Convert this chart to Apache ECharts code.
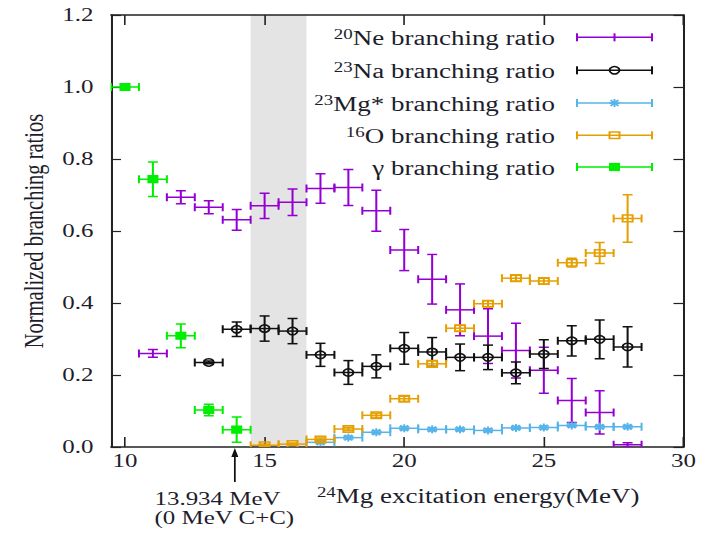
<!DOCTYPE html>
<html>
<head>
<meta charset="utf-8">
<title>24Mg branching ratios</title>
<script src="https://cdn.jsdelivr.net/npm/echarts@6/dist/echarts.min.js"></script>
<style>
  html, body { margin: 0; padding: 0; background: #fff; overflow: hidden; }
  /* the figure is laid out narrow and widened horizontally */
  #chart { width: 527px; height: 533px; transform: scaleX(1.3491); transform-origin: 0 0; }
</style>
</head>
<body>
<div id="chart"></div>
<script>
// ---- data -------------------------------------------------------------
const binHalfWidth = 0.5;            // MeV, half width of each energy bin
const shadedBand = [14.5, 16.5];     // MeV
const thresholdEnergy = 13.934;      // MeV, 12C+12C threshold
const xTickValues = [10, 15, 20, 25, 30];

const neEnergy = [11, 12, 13, 14, 15, 16, 17, 18, 19, 20, 21, 22, 23, 24, 25, 26, 27, 28];
const neRatio  = [0.260, 0.694, 0.666, 0.631, 0.670, 0.680, 0.718, 0.721, 0.656, 0.547, 0.466, 0.381, 0.308, 0.268, 0.213, 0.129, 0.096, 0.006];
const neError  = [0.011, 0.018, 0.018, 0.029, 0.035, 0.037, 0.041, 0.050, 0.057, 0.057, 0.069, 0.072, 0.076, 0.076, 0.064, 0.061, 0.060, 0.006];

const naEnergy = [13, 14, 15, 16, 17, 18, 19, 20, 21, 22, 23, 24, 25, 26, 27, 28];
const naRatio  = [0.235, 0.327, 0.329, 0.322, 0.256, 0.207, 0.224, 0.274, 0.264, 0.249, 0.249, 0.206, 0.258, 0.295, 0.299, 0.278];
const naError  = [0.004, 0.020, 0.035, 0.035, 0.032, 0.033, 0.032, 0.044, 0.040, 0.037, 0.034, 0.030, 0.040, 0.042, 0.054, 0.056];

const mgEnergy = [17, 18, 19, 20, 21, 22, 23, 24, 25, 26, 27, 28];
const mgRatio  = [0.013, 0.026, 0.041, 0.052, 0.049, 0.049, 0.046, 0.053, 0.054, 0.060, 0.056, 0.056];
const mgError  = [0.003, 0.004, 0.004, 0.004, 0.004, 0.004, 0.004, 0.004, 0.004, 0.004, 0.004, 0.004];

const oEnergy = [15, 16, 17, 18, 19, 20, 21, 22, 23, 24, 25, 26, 27, 28];
const oRatio  = [0.005, 0.008, 0.021, 0.050, 0.088, 0.134, 0.231, 0.330, 0.398, 0.469, 0.461, 0.512, 0.539, 0.635];
const oError  = [0.003, 0.003, 0.004, 0.005, 0.006, 0.007, 0.008, 0.008, 0.008, 0.008, 0.008, 0.012, 0.029, 0.066];

const gammaEnergy = [10, 11, 12, 13, 14];
const gammaRatio  = [1.000, 0.744, 0.309, 0.103, 0.048];
const gammaError  = [0.000, 0.048, 0.033, 0.016, 0.035];

// ---- styling ----------------------------------------------------------
const FONT = "'Liberation Serif', 'Times New Roman', serif";
const INK = '#1d1d2b';
const LW = 1.5;

const channels = [
  { mass: '20', label: 'Ne branching ratio',  marker: 'none',         color: '#9400d3', x: neEnergy,    y: neRatio,    e: neError },
  { mass: '23', label: 'Na branching ratio',  marker: 'circle',       color: '#111111', x: naEnergy,    y: naRatio,    e: naError },
  { mass: '23', label: 'Mg* branching ratio', marker: 'asterisk',     color: '#56b4e9', x: mgEnergy,    y: mgRatio,    e: mgError },
  { mass: '16', label: 'O branching ratio',   marker: 'openSquare',   color: '#e69f00', x: oEnergy,     y: oRatio,     e: oError },
  { mass: '',   label: 'γ branching ratio',   marker: 'filledSquare', color: '#00ee00', x: gammaEnergy, y: gammaRatio, e: gammaError }
];

function markerShapes(kind, cx, cy, color) {
  const st = { stroke: color, lineWidth: LW, fill: 'none' };
  switch (kind) {
    case 'circle':
      return [{ type: 'circle', shape: { cx: cx, cy: cy, r: 3.7 }, style: st }];
    case 'openSquare':
      return [{ type: 'rect', shape: { x: cx - 3.7, y: cy - 3.3, width: 7.4, height: 6.6 }, style: st }];
    case 'filledSquare':
      return [{ type: 'rect', shape: { x: cx - 4.1, y: cy - 4.1, width: 8.2, height: 8.2 }, style: { fill: color } }];
    case 'asterisk': {
      const h = 4.0, d = 2.9;
      return [
        { type: 'line', shape: { x1: cx - h, y1: cy, x2: cx + h, y2: cy }, style: st },
        { type: 'line', shape: { x1: cx, y1: cy - h, x2: cx, y2: cy + h }, style: st },
        { type: 'line', shape: { x1: cx - d, y1: cy - d, x2: cx + d, y2: cy + d }, style: st },
        { type: 'line', shape: { x1: cx - d, y1: cy + d, x2: cx + d, y2: cy - d }, style: st }
      ];
    }
    default:
      return [];
  }
}

function errorBarRenderer(kind, color) {
  return function (params, api) {
    const x = api.value(0), y = api.value(1), dy = api.value(2);
    const c = api.coord([x, y]);
    const l = api.coord([x - binHalfWidth, y]);
    const r = api.coord([x + binHalfWidth, y]);
    const t = api.coord([x, y + dy]);
    const b = api.coord([x, y - dy]);
    const st = { stroke: color, lineWidth: LW };
    const capX = 4, capY = 3.7;
    const children = [
      { type: 'line', shape: { x1: l[0], y1: c[1], x2: r[0], y2: c[1] }, style: st },
      { type: 'line', shape: { x1: l[0], y1: c[1] - capX, x2: l[0], y2: c[1] + capX }, style: st },
      { type: 'line', shape: { x1: r[0], y1: c[1] - capX, x2: r[0], y2: c[1] + capX }, style: st }
    ];
    if (dy > 0) {
      children.push(
        { type: 'line', shape: { x1: c[0], y1: t[1], x2: c[0], y2: b[1] }, style: st },
        { type: 'line', shape: { x1: c[0] - capY, y1: t[1], x2: c[0] + capY, y2: t[1] }, style: st },
        { type: 'line', shape: { x1: c[0] - capY, y1: b[1], x2: c[0] + capY, y2: b[1] }, style: st }
      );
    }
    return { type: 'group', children: children.concat(markerShapes(kind, c[0], c[1], color)) };
  };
}

const tickText = { fontFamily: FONT, fontSize: 18.5, color: INK };

const series = [
  {
    type: 'custom',
    name: 'band',
    silent: true,
    z: 0,
    data: [shadedBand],
    renderItem: function (params, api) {
      const p0 = api.coord([api.value(0), 1.2]);
      const p1 = api.coord([api.value(1), 0]);
      return { type: 'rect', shape: { x: p0[0], y: p0[1], width: p1[0] - p0[0], height: p1[1] - p0[1] }, style: { fill: '#e4e4e4' } };
    }
  }
].concat(channels.map(function (ch) {
  return {
    type: 'custom',
    name: ch.mass + ch.label,
    clip: true,
    z: 2,
    data: ch.x.map(function (xv, i) { return [xv, ch.y[i], ch.e[i]]; }),
    encode: { x: 0, y: 1 },
    renderItem: errorBarRenderer(ch.marker, ch.color)
  };
}));

const chart = echarts.init(document.getElementById('chart'), null, { renderer: 'svg' });

chart.setOption({
  animation: false,
  backgroundColor: '#fff',
  grid: { left: 82.3, right: 20.4, top: 15, bottom: 86 },
  xAxis: [
    {
      type: 'value', position: 'bottom', min: 9.5, max: 30,
      axisLine: { show: true, onZero: false, lineStyle: { color: '#222', width: LW } },
      axisTick: { inside: true, length: 10, customValues: xTickValues, lineStyle: { color: '#222', width: 1.2 } },
      axisLabel: { customValues: xTickValues, margin: 4, ...tickText },
      splitLine: { show: false },
      name: '{s|24}{t|Mg excitation energy(MeV)}',
      nameLocation: 'middle',
      nameGap: 38,
      nameTextStyle: {
        padding: [0, 0, 0, 120],
        rich: {
          s: { fontFamily: FONT, fontSize: 14, color: INK, verticalAlign: 'top', lineHeight: 22 },
          t: { fontFamily: FONT, fontSize: 20, color: INK, lineHeight: 22 }
        }
      }
    },
    {
      type: 'value', position: 'top', min: 9.5, max: 30,
      axisLine: { show: true, onZero: false, lineStyle: { color: '#222', width: LW } },
      axisTick: { inside: true, length: 10, customValues: xTickValues, lineStyle: { color: '#222', width: 1.2 } },
      axisLabel: { show: false },
      splitLine: { show: false }
    }
  ],
  yAxis: [
    {
      type: 'value', position: 'left', min: 0, max: 1.2, interval: 0.2,
      axisLine: { show: true, onZero: false, lineStyle: { color: '#222', width: LW } },
      axisTick: { inside: true, length: 7.4, lineStyle: { color: '#222', width: 1.2 } },
      axisLabel: { margin: 13, formatter: function (v) { return v.toFixed(1); }, ...tickText },
      splitLine: { show: false },
      name: 'Normalized branching ratios',
      nameLocation: 'middle',
      nameRotate: 90,
      nameGap: 46,
      nameTextStyle: { fontFamily: FONT, fontSize: 20.5, color: INK }
    },
    {
      type: 'value', position: 'right', min: 0, max: 1.2, interval: 0.2,
      axisLine: { show: true, onZero: false, lineStyle: { color: '#222', width: LW } },
      axisTick: { inside: true, length: 7.4, lineStyle: { color: '#222', width: 1.2 } },
      axisLabel: { show: false },
      splitLine: { show: false }
    }
  ],
  series: series
});

// ---- key and threshold annotation ----------------------------------------
const keyRows = [37.3, 70.3, 103.0, 135.3, 167.0];
const keyTextRight = 411.4, keyLineLeft = 427.7, keyLineRight = 483.3;
const keyMid = (keyLineLeft + keyLineRight) / 2;

const graphics = [];
channels.forEach(function (ch, i) {
  const yy = keyRows[i];
  const st = { stroke: ch.color, lineWidth: LW };
  const parts = [
    { type: 'line', shape: { x1: keyLineLeft, y1: yy, x2: keyLineRight, y2: yy }, style: st },
    { type: 'line', shape: { x1: keyLineLeft, y1: yy - 4, x2: keyLineLeft, y2: yy + 4 }, style: st },
    { type: 'line', shape: { x1: keyLineRight, y1: yy - 4, x2: keyLineRight, y2: yy + 4 }, style: st }
  ];
  if (ch.marker === 'none') {
    parts.push({ type: 'line', shape: { x1: keyMid, y1: yy - 4, x2: keyMid, y2: yy + 4 }, style: st });
  }
  graphics.push({ type: 'group', children: parts.concat(markerShapes(ch.marker, keyMid, yy, ch.color)) });
  graphics.push({
    type: 'text', x: keyTextRight, y: yy + 1,
    style: {
      text: (ch.mass ? '{s|' + ch.mass + '}' : '') + '{t|' + ch.label + '}',
      align: 'right', verticalAlign: 'middle',
      rich: {
        s: { fontFamily: FONT, fontSize: 14, fill: INK, verticalAlign: 'top', lineHeight: 22 },
        t: { fontFamily: FONT, fontSize: 20, fill: INK, lineHeight: 22 }
      }
    }
  });
});

const ax = chart.convertToPixel({ xAxisIndex: 0 }, thresholdEnergy);
const axisBottom = chart.convertToPixel({ yAxisIndex: 0 }, 0);
graphics.push(
  { type: 'line', shape: { x1: ax, y1: axisBottom + 35, x2: ax, y2: axisBottom + 6 }, style: { stroke: '#111', lineWidth: 1.3 } },
  { type: 'polygon', shape: { points: [[ax, axisBottom + 1], [ax - 2.6, axisBottom + 10], [ax + 2.6, axisBottom + 10]] }, style: { fill: '#111' } },
  {
    type: 'text', x: 114.5, y: axisBottom + 61.5,
    style: {
      text: '13.934 MeV\n(0 MeV C+C)', fontFamily: FONT, fontSize: 18.5, lineHeight: 19,
      fill: INK, align: 'left', verticalAlign: 'middle'
    }
  }
);

chart.setOption({ graphic: graphics });
</script>
</body>
</html>
